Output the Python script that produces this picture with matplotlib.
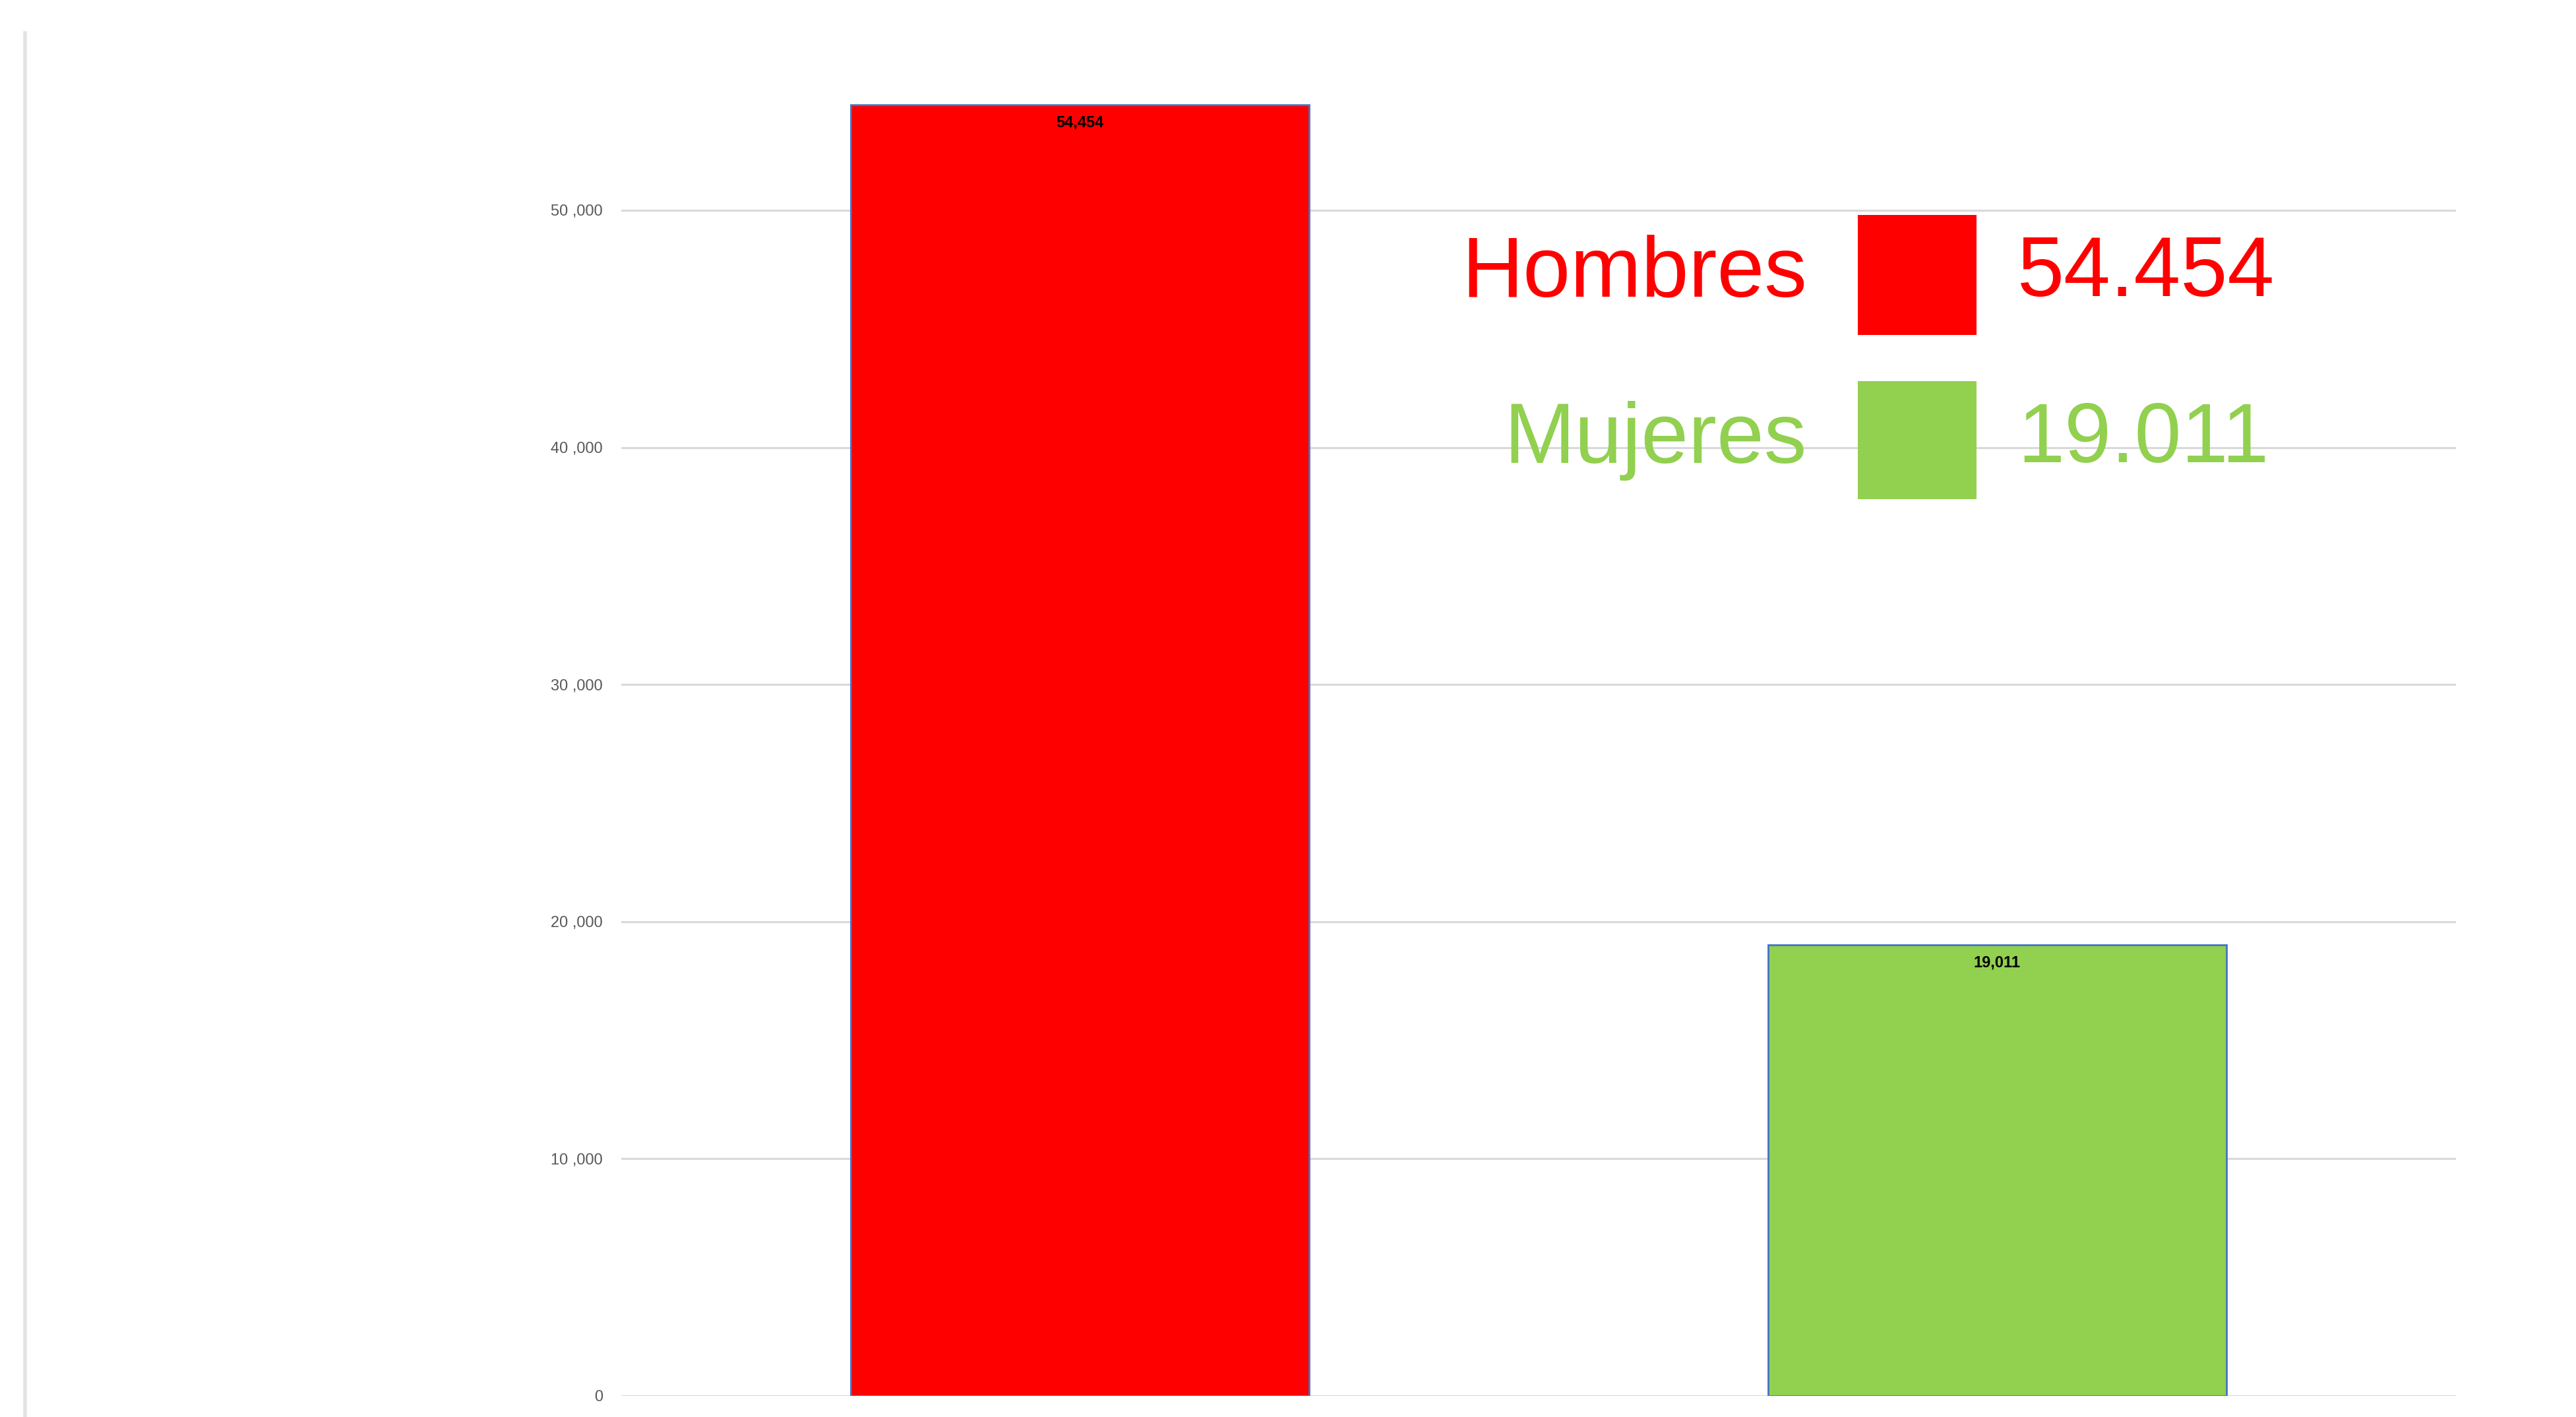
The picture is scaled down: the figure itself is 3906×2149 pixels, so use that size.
import matplotlib
matplotlib.use("Agg")
import matplotlib.pyplot as plt
from matplotlib.patches import Rectangle
from matplotlib.lines import Line2D

categories = ["Hombres", "Mujeres"]
values = [54454, 19011]
bar_labels = ["54,454", "19,011"]
legend_values = ["54.454", "19.011"]
bar_colors = ["#FF0000", "#92D050"]
yticks = [0, 10000, 20000, 30000, 40000, 50000]
ytick_labels = ["0", "10 ,000", "20 ,000", "30 ,000", "40 ,000", "50 ,000"]

W, H = 3906, 2149
fig = plt.figure(figsize=(W / 100, H / 100), dpi=100)
fig.patch.set_facecolor("white")

ax = fig.add_axes([942 / W, 0.0149, (3724 - 942) / W, 0.9538])
x = list(range(len(categories)))
ax.bar(x, values, width=0.5, color=bar_colors, edgecolor="#4472C4",
       linewidth=2, zorder=3)
ax.set_xlim(-0.5, 1.5)
ax.set_ylim(0, 57000)
ax.set_yticks(yticks)
ax.set_yticklabels(ytick_labels, family="Liberation Sans",
                   fontsize=17, color="#595959")
ax.tick_params(axis="y", length=0, pad=20)
ax.set_xticks([])
for s in ax.spines.values():
    s.set_visible(False)
ax.yaxis.grid(True, color="#d9d9d9", linewidth=2.2, zorder=0)
ax.set_axisbelow(True)

for xi, v, lab in zip(x, values, bar_labels):
    ax.annotate(lab, (xi, v), xytext=(0, -11), textcoords="offset points",
                ha="center", va="top", fontsize=17, fontweight="bold",
                family="Liberation Sans", color="black", zorder=4)

# custom legend
rows_y = [416, 668]
sq_tops = [326, 578]
sq_bots = [508, 757]
for cat, val, col, ry, st, sb in zip(categories, legend_values, bar_colors,
                                     rows_y, sq_tops, sq_bots):
    fig.text(2740 / W, 1 - ry / H, cat, ha="right", va="center", fontsize=93,
             color=col, family="Liberation Sans")
    fig.patches.append(Rectangle((2817 / W, 1 - sb / H), (2997 - 2817) / W,
                                 (sb - st) / H, transform=fig.transFigure,
                                 facecolor=col, edgecolor="none", zorder=5))
    fig.text(3059 / W, 1 - ry / H, val, ha="left", va="center", fontsize=92,
             color=col, family="Liberation Sans")

# left border line
fig.lines.append(Line2D([38 / W, 38 / W], [0, 1 - 50 / H], transform=fig.transFigure,
                        color="#e3e3e3", linewidth=4))

fig.savefig("out.png", dpi=100, facecolor="white")
